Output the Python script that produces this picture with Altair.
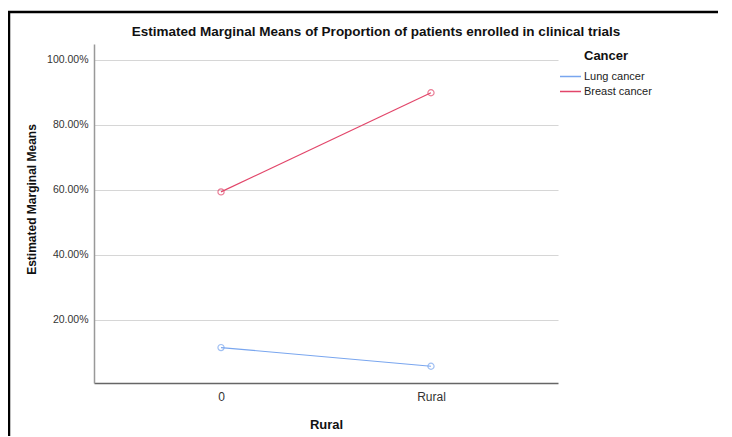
import altair as alt
import pandas as pd

groups = ["0", "Rural"]
series = ["Lung cancer", "Breast cancer"]
lung = [0.115, 0.0575]
breast = [0.594, 0.899]
y_ticks = [0.2, 0.4, 0.6, 0.8, 1.0]
colors = ["#79a6ef", "#e2466a"]
chart_title = "Estimated Marginal Means of Proportion of patients enrolled in clinical trials"

rows = []
for g, v in zip(groups, lung):
    rows.append({"Rural": g, "Cancer": "Lung cancer", "value": v})
for g, v in zip(groups, breast):
    rows.append({"Rural": g, "Cancer": "Breast cancer", "value": v})
df = pd.DataFrame(rows)

FONT = "Liberation Sans"

x_enc = alt.X("Rural:N", sort=groups,
              scale=alt.Scale(type="point", padding=0.605),
              axis=alt.Axis(title="Rural", labelAngle=0, ticks=False,
                            labelFontSize=12, labelColor="#333333", labelPadding=8,
                            titleFontSize=13, titleFontWeight="bold", titleColor="#111111",
                            titlePadding=16, domainColor="#666666", domainWidth=1.5,
                            grid=False))
y_enc = alt.Y("value:Q",
              scale=alt.Scale(domain=[0.006, 1.049], nice=False, zero=False),
              axis=alt.Axis(title="Estimated Marginal Means", format=".2%", values=y_ticks,
                            ticks=False, labelFontSize=10.5, labelColor="#333333", labelPadding=6,
                            titleFontSize=12, titleFontWeight="bold", titleColor="#111111",
                            titlePadding=8, titleY=155,
                            domainColor="#999999", domainWidth=1.5,
                            grid=True, gridColor="#d6d6d6", gridWidth=1.2))
color_enc = alt.Color("Cancer:N", sort=series,
                      scale=alt.Scale(domain=series, range=colors),
                      legend=alt.Legend(title=None, orient="none", legendX=465, legendY=26,
                                        symbolType="stroke", symbolSize=441,
                                        symbolStrokeWidth=1.5, labelFontSize=11,
                                        labelColor="#222222", labelOffset=2,
                                        clipHeight=13, rowPadding=2, labelFont=FONT))

base = alt.Chart(df)
lines = base.mark_line(strokeWidth=1.2).encode(x=x_enc, y=y_enc, color=color_enc,
                                               order=alt.Order("Rural:N"))
points = base.mark_point(shape="circle", size=38, filled=False, strokeWidth=1.2).encode(
    x=x_enc, y=y_enc, color=alt.Color("Cancer:N", sort=series,
                                      scale=alt.Scale(domain=series, range=colors), legend=None))

title_text = alt.Chart(pd.DataFrame({"t": [chart_title]})).mark_text(
    font=FONT, fontSize=13.5, fontWeight="bold", align="center", baseline="middle", color="#111111"
).encode(text="t:N", x=alt.value(282), y=alt.value(-12))

legend_title = alt.Chart(pd.DataFrame({"t": ["Cancer"]})).mark_text(
    font=FONT, fontSize=13, fontWeight="bold", align="left", baseline="middle", color="#111111"
).encode(text="t:N", x=alt.value(490), y=alt.value(12))

frame_top = alt.Chart(pd.DataFrame({"a": [0]})).mark_rule(color="black", strokeWidth=2.5).encode(
    x=alt.value(-86), x2=alt.value(660), y=alt.value(-32))
frame_left = alt.Chart(pd.DataFrame({"a": [0]})).mark_rule(color="black", strokeWidth=2.5).encode(
    x=alt.value(-85), y=alt.value(-33), y2=alt.value(400))

chart = alt.layer(lines, points, title_text, legend_title, frame_top, frame_left).properties(
    width=464, height=339,
    autosize=alt.AutoSizeParams(type="none"),
    padding={"left": 86, "top": 36, "right": 160, "bottom": 53},
).configure(font=FONT).configure_view(stroke=None)

chart.save("out.html", embed_options={"renderer": "svg", "actions": False})
